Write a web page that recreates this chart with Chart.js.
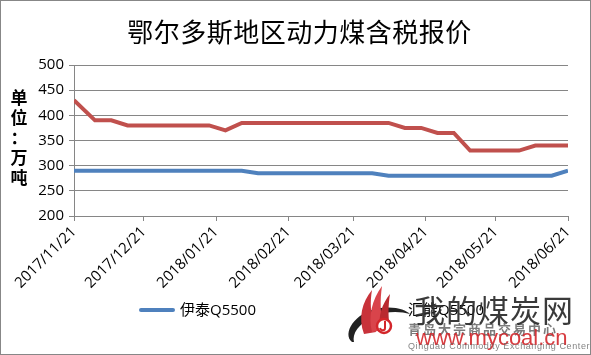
<!DOCTYPE html>
<html><head><meta charset="utf-8">
<script src="https://cdn.jsdelivr.net/npm/chart.js@4"></script>
<style>
html,body{margin:0;padding:0;background:#fff;}
#wrap{position:relative;width:591px;height:355px;overflow:hidden;background:#fff}
canvas{position:absolute;left:0;top:0}
#frame{position:absolute;left:0;top:0;width:591px;height:355px;box-sizing:border-box;border:1px solid #878787;pointer-events:none}
#title{position:absolute;left:4px;width:591px;top:14px;text-align:center;font:26px/34px "Noto Sans CJK SC";color:#000;letter-spacing:0.5px}
#ytitle{position:absolute;left:8px;width:22px;top:87px;text-align:center;font:bold 17px/20px "Noto Sans CJK SC";color:#000}
#logo{position:absolute;left:340px;top:284px}
#wm1{position:absolute;left:414px;top:291px;font:31px/36px "Noto Sans CJK SC";color:#2a2a2a;letter-spacing:1px;opacity:0.92}
#wm2{position:absolute;left:416px;top:326px;font:22px/24px "Liberation Sans";color:#d3262b;opacity:0.9}
#wm3{position:absolute;left:408px;top:322px;font:bold 13px/14px "Noto Sans CJK SC";color:#444;opacity:0.7;letter-spacing:2px}
#wm4{position:absolute;left:408px;top:341px;font:9px/10px "Liberation Sans";color:#666;opacity:0.8;letter-spacing:0.6px}
</style></head>
<body>
<div id="wrap">
<canvas id="c" width="591" height="355"></canvas>
<div id="title">鄂尔多斯地区动力煤含税报价</div>
<div id="ytitle">单<br>位<br>：<br>万<br>吨</div>
<svg id="logo" width="75" height="66" viewBox="0 0 75 66">
  <rect x="8" y="18" width="58" height="16" fill="#fff"/>
  <path d="M12 58 C2 50 14 28 40 24 C56 22 66 26 70 30 C60 27 46 27 34 32 C18 40 12 50 14 58 Z" fill="#222"/>
  <path d="M24 50 C18 34 22 18 32 6 C30 18 30 30 36 48 Z" fill="#c8323a"/>
  <path d="M32 48 C28 32 32 16 42 2 C40 16 40 30 44 46 Z" fill="#d9444b"/>
  <path d="M40 46 C38 32 42 20 50 10 C48 22 48 34 50 44 Z" fill="#b92a30"/>
  <circle cx="44" cy="42" r="7" fill="#fff" stroke="#d3262b" stroke-width="2.5"/>
  <path d="M45 37 L45 44 C45 47 41 47 40 44" fill="none" stroke="#d3262b" stroke-width="2"/>
</svg>
<div id="wm3">青岛大宗商品交易中心</div>
<div id="wm1">我的煤炭网</div>
<div id="wm2">www.mycoal.cn</div>
<div id="wm4">Qingdao Commodity Exchanging Center</div>
<div id="frame"></div>
</div>
<script>
const dates = ['2017/11/21','2017/11/30','2017/12/07','2017/12/14','2017/12/21','2017/12/28',
  '2018/01/04','2018/01/11','2018/01/18','2018/01/25','2018/02/01','2018/02/08','2018/02/15',
  '2018/02/22','2018/03/01','2018/03/08','2018/03/15','2018/03/22','2018/03/29','2018/04/05',
  '2018/04/12','2018/04/19','2018/04/26','2018/05/03','2018/05/10','2018/05/17','2018/05/24',
  '2018/05/31','2018/06/07','2018/06/14','2018/06/21'];
const yitai = [290,290,290,290,290,290,290,290,290,290,290,285,285,285,285,285,285,285,285,280,
  280,280,280,280,280,280,280,280,280,280,290];
const huineng = [430,390,390,380,380,380,380,380,380,370,385,385,385,385,385,385,385,385,385,385,
  375,375,365,365,330,330,330,330,340,340,340];
const tickLabels = ['2017/11/21','2017/12/21','2018/01/21','2018/02/21','2018/03/21','2018/04/21','2018/05/21','2018/06/21'];
const yTicks = [200,250,300,350,400,450,500];
const seriesNames = ['伊泰Q5500','汇能Q5500'];

function dayOf(s){const p=s.split('/').map(Number);return Date.UTC(p[0],p[1]-1,p[2])/864e5;}
const base = dayOf(dates[0]);
const toXY = arr => arr.map((v,i)=>({x:dayOf(dates[i])-base,y:v}));
const tickDays = tickLabels.map(s=>dayOf(s)-base);

const legendPlugin = {
  id:'customLegend',
  afterDraw(chart){
    const ctx = chart.ctx;
    const xs = [139,367];
    const y = 310;
    ctx.save();
    chart.data.datasets.forEach((ds,i)=>{
      ctx.strokeStyle = ds.borderColor;
      ctx.lineWidth = 4;
      ctx.lineCap = 'round';
      ctx.beginPath(); ctx.moveTo(xs[i]+2,y); ctx.lineTo(xs[i]+34,y); ctx.stroke();
      ctx.fillStyle = '#000';
      ctx.font = '15px "Open Sans","Noto Sans CJK SC"';
      ctx.textBaseline = 'middle';
      ctx.fillText(ds.label, xs[i]+41, y+1);
    });
    ctx.restore();
  }
};

const tickFont = {family:'"Open Sans","Noto Sans CJK SC"', size:15};
new Chart(document.getElementById('c'), {
  type:'line',
  data:{datasets:[
    {label:seriesNames[0], data:toXY(yitai), borderColor:'#4F81BD', borderWidth:4, pointRadius:0, tension:0, fill:false},
    {label:seriesNames[1], data:toXY(huineng), borderColor:'#C0504D', borderWidth:4, pointRadius:0, tension:0, fill:false}
  ]},
  options:{
    responsive:false, animation:false,
    layout:{padding:{top:65,right:23,left:0,bottom:0}},
    plugins:{legend:{display:false}, title:{display:false}, tooltip:{enabled:false}},
    scales:{
      x:{type:'linear', min:tickDays[0], max:tickDays[tickDays.length-1],
        afterBuildTicks(s){ s.ticks = tickDays.map(v=>({value:v})); },
        afterFit(s){ s.height = 139; },
        grid:{drawOnChartArea:false, drawTicks:true, tickLength:5, color:'#868686', lineWidth:1},
        border:{display:true, color:'#868686', width:1},
        ticks:{autoSkip:false, maxRotation:45, minRotation:45, padding:2, color:'#000', font:tickFont,
          callback:(v,i)=>tickLabels[i]}
      },
      y:{min:yTicks[0], max:yTicks[yTicks.length-1],
        afterBuildTicks(s){ s.ticks = yTicks.map(v=>({value:v})); },
        afterFit(s){ s.width = 74; },
        grid:{color:'#868686', lineWidth:1, tickLength:5},
        border:{display:true, color:'#868686', width:1},
        ticks:{padding:5, color:'#000', font:{family:'"Open Sans"', size:15}}
      }
    }
  },
  plugins:[legendPlugin]
});
</script>
</body></html>
